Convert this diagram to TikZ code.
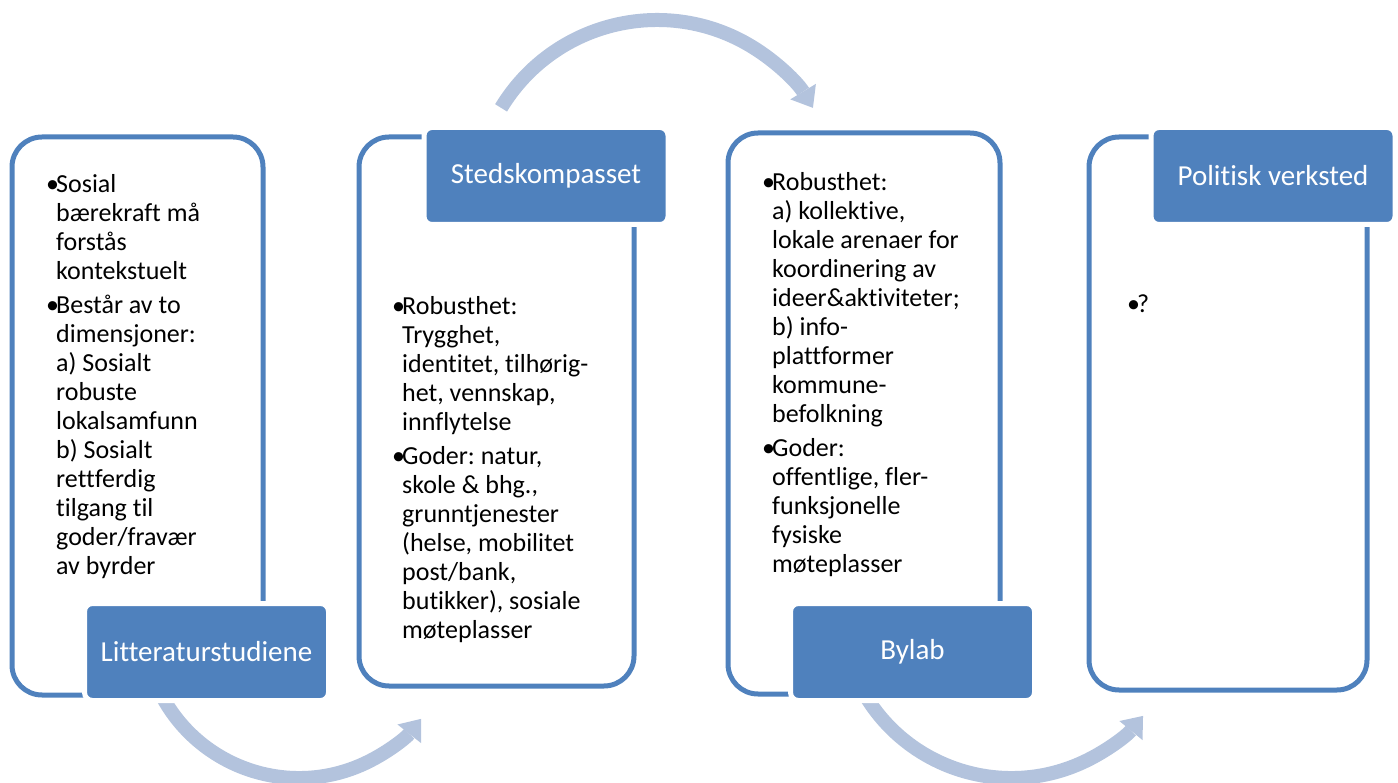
\documentclass[tikz,border=0pt]{standalone}
\usepackage{fontspec}
\setmainfont{Carlito}[Ligatures=NoCommon,RawFeature={-liga;-clig;-dlig}]
\usetikzlibrary{arrows.meta}
\definecolor{acc}{RGB}{79,129,189}
\definecolor{flowc}{RGB}{179,195,221}
\newcommand{\bl}{\makebox[10pt][l]{•}}
\newcommand{\ind}{\hspace*{10pt}}
\frenchspacing
\begin{document}
\frenchspacing
\begin{tikzpicture}[x=1pt,y=1pt,
  panel/.style={draw=acc, line width=5pt, rounded corners=30pt, inner sep=0pt},
  headbox/.style={fill=acc, draw=white, line width=5pt, rounded corners=8pt, minimum width=244pt, minimum height=97pt, inner sep=0pt, text=white, font=\fontsize{29}{35}\selectfont},
  bodytext/.style={anchor=north west, inner sep=0pt, align=left, font=\fontsize{26}{29}\selectfont\frenchspacing},
  cyclearrow/.style={draw=flowc, line width=14pt, -{Triangle[width=30pt,length=19pt,line width=0pt]}}]
\useasboundingbox (0,0) rectangle (1398,-783);
% arrow centres
\coordinate (c1) at (299,-622.5);
\coordinate (c2) at (657,-202.3);
\coordinate (c3) at (1011.4,-607.4);
% arrows
\draw[cyclearrow] ([shift={(205:155.5pt)}]c1) arc[start angle=205,end angle=321.7,radius=155.5pt];
\draw[cyclearrow] ([shift={(148.8:182.3pt)}]c2) arc[start angle=148.8,end angle=31.2,radius=182.3pt];
\draw[cyclearrow] ([shift={(205:170.6pt)}]c3) arc[start angle=205,end angle=320.5,radius=170.6pt];
% frames
\node[panel, minimum width=251pt, minimum height=558pt] (f1) at (137.5,-416) {};
\node[panel, minimum width=275pt, minimum height=549pt] (f2) at (496.5,-411.5) {};
\node[panel, minimum width=272pt, minimum height=561pt] (f3) at (864,-413.5) {};
\node[panel, minimum width=278pt, minimum height=553pt] (f4) at (1228,-413.5) {};
% header boxes
\node[headbox] (h1) at (206.5,-652) {Litteraturstudiene};
\node[headbox] (h2) at (546,-176) {Stedskompasset};
\node[headbox] (h3) at (912.5,-652) {Bylab};
\node[headbox] (h4) at (1273,-176) {Politisk verksted};
% texts
\node[bodytext] (t1) at (46,-171.7) {\strut\bl Sosial\\ \ind bærekraft må\\ \ind forstås\\ \ind kontekstuelt\\[5pt]
\bl Består av to\\ \ind dimensjoner:\\ \ind a) Sosialt\\ \ind robuste\\ \ind lokalsamfunn\\ \ind b) Sosialt\\ \ind rettferdig\\ \ind tilgang til\\ \ind goder/fravær\\ \ind av byrder};
\node[bodytext] (t2) at (392,-293.7) {\strut\bl Robusthet:\\ \ind Trygghet,\\ \ind identitet, tilhørig-\\ \ind het, vennskap,\\ \ind innflytelse\\[5pt]
\bl Goder: natur,\\ \ind skole \& bhg.,\\ \ind grunntjenester\\ \ind (helse, mobilitet\\ \ind post/bank,\\ \ind butikker), sosiale\\ \ind møteplasser};
\node[bodytext] (t3) at (762,-169.7) {\strut\bl Robusthet:\\ \ind a) kollektive,\\ \ind lokale arenaer for\\ \ind koordinering av\\ \ind ideer\&aktiviteter;\\ \ind b) info-\\ \ind plattformer\\ \ind kommune-\\ \ind befolkning\\[5pt]
\bl Goder:\\ \ind offentlige, fler-\\ \ind funksjonelle\\ \ind fysiske\\ \ind møteplasser};
\node[bodytext] (t4) at (1127,-291.7) {\strut\bl ?};
\end{tikzpicture}
\end{document}
